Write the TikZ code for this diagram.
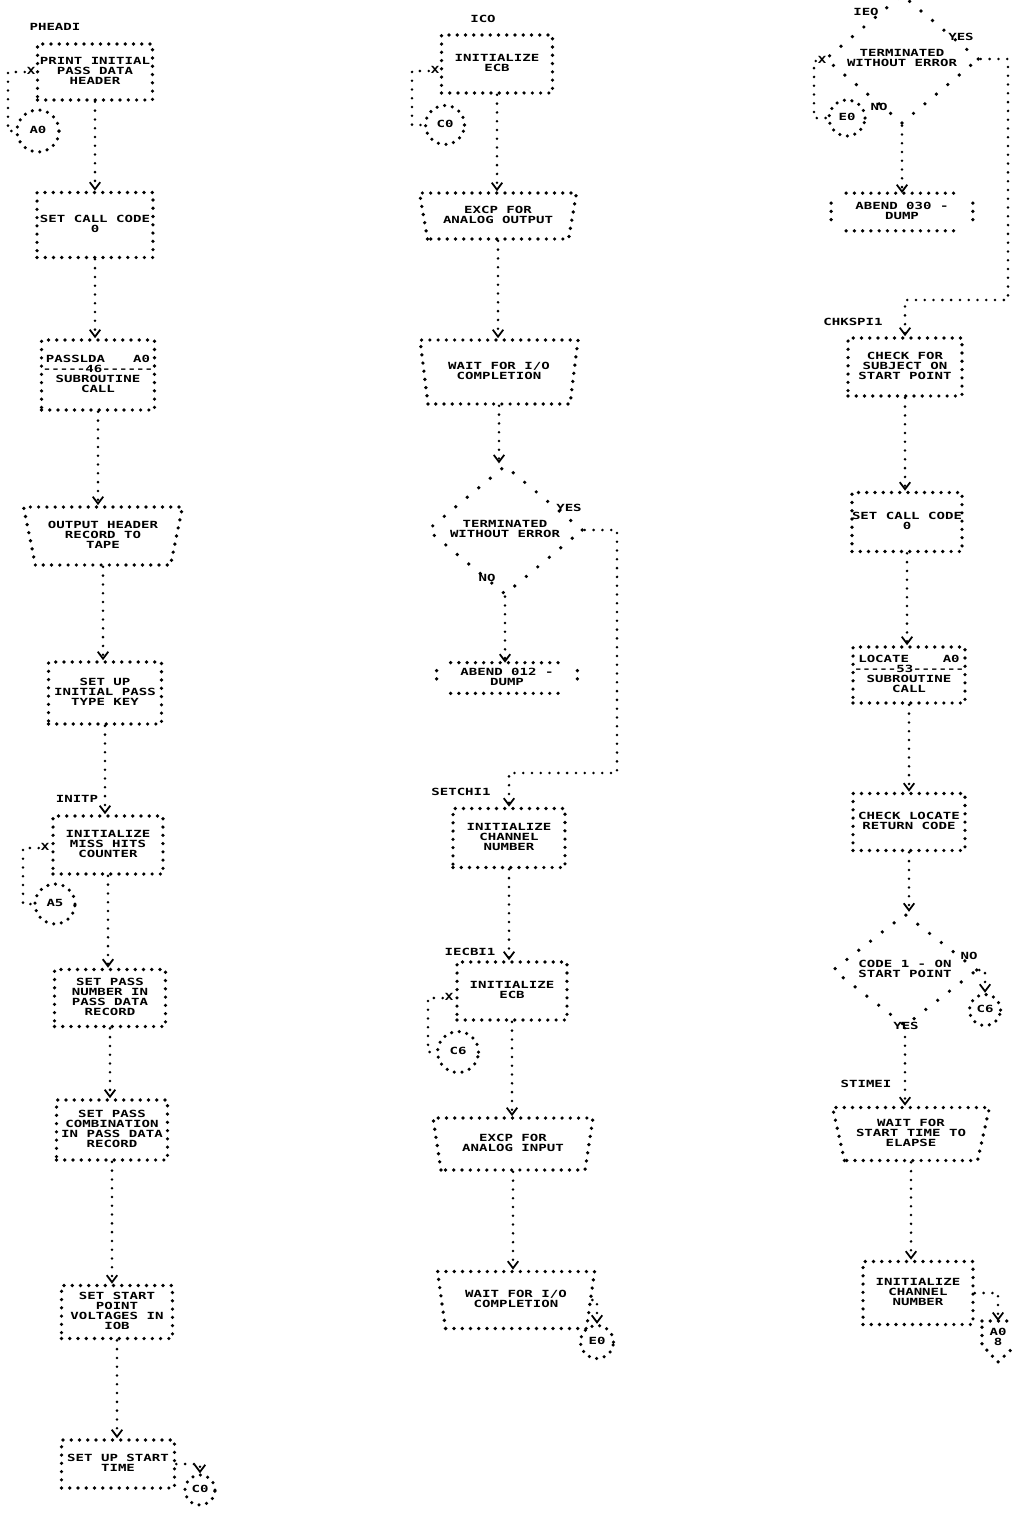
\documentclass[tikz,border=0pt]{standalone}
\usepackage{fontspec}
\usepackage{graphicx}
\usepackage{tikz}
\usetikzlibrary{shapes.geometric, arrows.meta, positioning, calc}
\newfontfamily\lpfont{DejaVu Sans Mono}
\newcommand{\prt}[1]{\scalebox{1}[0.7]{\begin{tabular}{@{}c@{}}#1\end{tabular}}}
\tikzset{
	dotline/.style  ={line width=2.1pt, dash pattern=on 0pt off 4.7pt, line cap=round},
	procbox/.style  ={rectangle, draw=black, dotline, minimum width=2.24cm, minimum height=1.16cm, inner sep=0pt},
	iobox/.style    ={trapezium, trapezium left angle=112, trapezium right angle=112, trapezium stretches body=true, draw=black, dotline, minimum width=3.16cm, minimum height=1.0cm, inner sep=0pt},
	termbox/.style  ={rectangle, minimum width=2.8cm, minimum height=0.7cm, inner sep=0pt},
	decision/.style ={diamond, draw=black, line width=2.1pt, dash pattern=on 0pt off 8.5pt, line cap=round, minimum width=3.1cm, minimum height=1.95cm, inner sep=0pt},
	conn/.style     ={circle, draw=black, line width=2pt, dash pattern=on 0pt off 4.4pt, line cap=round, minimum size=0.78cm, inner sep=0pt},
	lbl/.style      ={inner sep=1pt},
	% connector lines
	loopline/.style ={line width=1.6pt, dash pattern=on 0pt off 5pt, line cap=round},
	flow/.style     ={loopline, -{Straight Barb[length=4pt, width=6pt, line width=1pt]}},
}

\begin{document}
\begin{tikzpicture}[x=0.02cm, y=-0.02cm, font=\lpfont\bfseries\fontsize{8}{6.9}\selectfont]
	\fill[white] (0,0) rectangle (1013,1521);
	\useasboundingbox (0,0) rectangle (1013,1521);
	% left column
	\node[lbl] (lPHEADI) at (55,28) {\prt{PHEADI}};
	\node[procbox, minimum width=2.3cm, minimum height=1.12cm] (b1) at (95,72) {\prt{PRINT INITIAL\\PASS DATA\\HEADER}};
	\node[lbl] (xA0) at (31,72) {\prt{X}};
	\node[conn, minimum size=0.84cm] (cA0) at (38,131) {\prt{A0}};
	\node[procbox, minimum width=2.32cm, minimum height=1.3cm] (b2) at (95,225) {\prt{SET CALL CODE\\0}};
	\node[procbox, minimum width=2.26cm, minimum height=1.4cm] (b3) at (98,375) {\prt{PASSLDA\hspace{2em}A0\\-{}-{}-{}-{}-{}46-{}-{}-{}-{}-{}-{}\\SUBROUTINE\\CALL}};
	\node[iobox, minimum width=3.18cm, minimum height=1.16cm] (b4) at (103,536) {\prt{OUTPUT HEADER\\RECORD TO\\TAPE}};
	\node[procbox, minimum width=2.26cm, minimum height=1.24cm] (b5) at (105,693) {\prt{SET UP\\INITIAL PASS\\TYPE KEY}};
	\node[lbl] (lINITP) at (77,800) {\prt{INITP}};
	\node[procbox, minimum width=2.2cm, minimum height=1.16cm] (b6) at (108,845) {\prt{INITIALIZE\\MISS HITS\\COUNTER}};
	\node[lbl] (xA5) at (45,848) {\prt{X}};
	\node[conn, minimum size=0.8cm] (cA5) at (55,904) {\prt{A5}};
	\node[procbox, minimum width=2.22cm, minimum height=1.14cm] (b7) at (110,998) {\prt{SET PASS\\NUMBER IN\\PASS DATA\\RECORD}};
	\node[procbox, minimum width=2.22cm, minimum height=1.2cm] (b8) at (112,1130) {\prt{SET PASS\\COMBINATION\\IN PASS DATA\\RECORD}};
	\node[procbox, minimum width=2.22cm, minimum height=1.06cm] (b9) at (117,1312) {\prt{SET START\\POINT\\VOLTAGES IN\\IOB}};
	\node[procbox, minimum width=2.26cm, minimum height=0.96cm] (b10) at (118,1464) {\prt{SET UP START\\TIME}};
	\node[conn, minimum size=0.6cm] (cC0) at (200,1490) {\prt{C0}};
	\draw[loopline] (xA0) -- (8,72) |- (cA0);
	\draw[loopline] (xA5) -- (23,848) |- (cA5);
	\draw[flow] (b1.south) -- (b1.south |- b2.north);
	\draw[flow] (b2.south) -- (b2.south |- b3.north);
	\draw[flow] (b3.south) -- (b3.south |- b4.north);
	\draw[flow] (b4.south) -- (b4.south |- b5.north);
	\draw[flow] (b5.south) -- (b5.south |- b6.north);
	\draw[flow] (b6.south) -- (b6.south |- b7.north);
	\draw[flow] (b7.south) -- (b7.south |- b8.north);
	\draw[flow] (b8.south) -- (b8.south |- b9.north);
	\draw[flow] (b9.south) -- (b9.south |- b10.north);
	\draw[flow] (b10.east) -| (cC0.north);
	% middle column
	\node[lbl] (lICO) at (483,20) {\prt{ICO}};
	\node[procbox, minimum width=2.22cm, minimum height=1.16cm] (c1) at (497,64) {\prt{INITIALIZE\\ECB}};
	\node[lbl] (xC0) at (435,71) {\prt{X}};
	\node[conn] (cC0b) at (445,125) {\prt{C0}};
	\node[iobox, minimum width=3.14cm, minimum height=0.92cm] (c2) at (498,216) {\prt{EXCP FOR\\ANALOG OUTPUT}};
	\node[iobox, minimum width=3.16cm, minimum height=1.28cm] (c3) at (499,372) {\prt{WAIT FOR I/O\\COMPLETION}};
	\node[decision, minimum width=3.12cm, minimum height=1.92cm] (d1) at (505,530) {\prt{TERMINATED\\WITHOUT ERROR}};
	\node[lbl] (lYES1) at (569,509) {\prt{YES}};
	\node[lbl] (lNO1) at (487,579) {\prt{NO}};
	\node[termbox, minimum width=2.8cm, minimum height=0.6cm] (c4) at (507,678) {\prt{ABEND 012 -\\DUMP}};
	\node[lbl] (lSETCHI1) at (461,793) {\prt{SETCHI1}};
	\node[procbox, minimum width=2.24cm, minimum height=1.18cm] (c5) at (509,838) {\prt{INITIALIZE\\CHANNEL\\NUMBER}};
	\node[lbl] (lIECBI1) at (470,953) {\prt{IECBI1}};
	\node[procbox, minimum width=2.2cm, minimum height=1.16cm] (c6) at (512,991) {\prt{INITIALIZE\\ECB}};
	\node[lbl] (xC6) at (449,998) {\prt{X}};
	\node[conn, minimum size=0.82cm] (cC6) at (458,1052) {\prt{C6}};
	\node[iobox, minimum width=3.2cm, minimum height=1.04cm] (c7) at (513,1144) {\prt{EXCP FOR\\ANALOG INPUT}};
	\node[iobox, minimum width=3.14cm, minimum height=1.14cm] (c8) at (516,1300) {\prt{WAIT FOR I/O\\COMPLETION}};
	\node[conn, minimum size=0.66cm] (cE0) at (597,1342) {\prt{E0}};
	\draw[loopline] (xC0) -- (412,71) |- (cC0b);
	\draw[loopline] (xC6) -- (428,998) |- (cC6);
	\draw[flow] (c1.south) -- (c1.south |- c2.north);
	\draw[flow] (c2.south) -- (c2.south |- c3.north);
	\draw[flow] (c3.south) -- (c3.south |- d1.north);
	\draw[flow] (d1.south) -- (d1.south |- c4.north);
	\draw[flow] (d1.east) -| (617,773) -| (c5.north);
	\draw[flow] (c5.south) -- (c5.south |- c6.north);
	\draw[flow] (c6.south) -- (c6.south |- c7.north);
	\draw[flow] (c7.south) -- (c7.south |- c8.north);
	\draw[flow] (c8.east) -| (cE0.north);
	% right column
	\node[lbl] (lIEO) at (866,13) {\prt{IEO}};
	\node[decision, minimum width=3.08cm, minimum height=2.04cm] (d2) at (902,59) {\prt{TERMINATED\\WITHOUT ERROR}};
	\node[lbl] (lYES2) at (961,38) {\prt{YES}};
	\node[lbl] (lNO2) at (879,108) {\prt{NO}};
	\node[lbl] (xE0) at (822,61) {\prt{X}};
	\node[conn, minimum size=0.72cm] (cE0b) at (847,118) {\prt{E0}};
	\node[termbox, minimum width=2.82cm, minimum height=0.74cm] (e1) at (902,212) {\prt{ABEND 030 -\\DUMP}};
	\node[lbl] (lCHKSPI1) at (853,323) {\prt{CHKSPI1}};
	\node[procbox, minimum width=2.28cm, minimum height=1.16cm] (e2) at (905,367) {\prt{CHECK FOR\\SUBJECT ON\\START POINT}};
	\node[procbox, minimum width=2.2cm, minimum height=1.18cm] (e3) at (907,522) {\prt{SET CALL CODE\\0}};
	\node[procbox, minimum width=2.24cm, minimum height=1.12cm] (e4) at (909,675) {\prt{LOCATE\hspace{2.4em}A0\\-{}-{}-{}-{}-{}53-{}-{}-{}-{}-{}-{}\\SUBROUTINE\\CALL}};
	\node[procbox, minimum width=2.24cm, minimum height=1.14cm] (e5) at (909,822) {\prt{CHECK LOCATE\\RETURN CODE}};
	\node[decision, minimum width=2.9cm, minimum height=1.96cm] (d3) at (905,970) {\prt{CODE 1 - ON\\START POINT}};
	\node[lbl] (lNO3) at (969,957) {\prt{NO}};
	\node[conn, minimum size=0.62cm] (cC6b) at (985,1010) {\prt{C6}};
	\node[lbl] (lYES3) at (906,1027) {\prt{YES}};
	\node[lbl] (lSTIMEI) at (866,1085) {\prt{STIMEI}};
	\node[iobox, minimum width=3.14cm, minimum height=1.06cm] (e6) at (911,1134) {\prt{WAIT FOR\\START TIME TO\\ELAPSE}};
	\node[procbox, minimum width=2.2cm, minimum height=1.26cm] (e7) at (918,1293) {\prt{INITIALIZE\\CHANNEL\\NUMBER}};
	\node[lbl] (pA0) at (998,1338) {\prt{A0\\8}};
	\coordinate (pA0top) at (998,1321);
	\draw[dotline] (982,1321) -- (1016,1321) -- (1016,1345) -- (998,1362) -- (982,1345) -- cycle;
	\draw[loopline] (xE0) -- (814,61) |- (cE0b);
	\draw[flow] (d2.south) -- (d2.south |- e1.north);
	\draw[flow] (d2.east) -| (1008,300) -| (e2.north);
	\draw[flow] (e2.south) -- (e2.south |- e3.north);
	\draw[flow] (e3.south) -- (e3.south |- e4.north);
	\draw[flow] (e4.south) -- (e4.south |- e5.north);
	\draw[flow] (e5.south) -- (e5.south |- d3.north);
	\draw[flow] (d3.east) -| (cC6b.north);
	\draw[flow] (d3.south) -- (d3.south |- e6.north);
	\draw[flow] (e6.south) -- (e6.south |- e7.north);
	\draw[flow] (e7.east) -| (pA0top);
	% terminal outlines with open corners
	\foreach \t/\dx/\dy in {c4/0.28cm/0.16cm, e1/0.3cm/0.2cm} {
		\draw[dotline] ([xshift=\dx]\t.north west) -- ([xshift=-\dx]\t.north east);
		\draw[dotline] ([xshift=\dx]\t.south west) -- ([xshift=-\dx]\t.south east);
		\draw[dotline] ([yshift=-\dy]\t.north west) -- ([yshift=\dy]\t.south west);
		\draw[dotline] ([yshift=-\dy]\t.north east) -- ([yshift=\dy]\t.south east);
	}
\end{tikzpicture}
\end{document}
